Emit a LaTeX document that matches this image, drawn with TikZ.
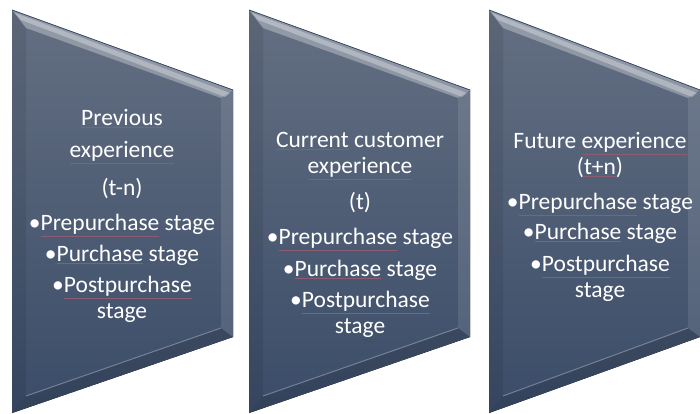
\documentclass[tikz,border=0pt]{standalone}
\usepackage{fontspec}
\setmainfont{Carlito}
\definecolor{slatetop}{RGB}{100,111,130}
\definecolor{slatebot}{RGB}{58,76,104}
\definecolor{spellred}{RGB}{140,92,115}
\newcommand{\spl}[1]{{\color{spellred}\underline{\color{white}#1}}}
\tikzset{
  panel/.style={top color=slatetop, bottom color=slatebot, draw=none},
  facet/.style={fill=white, fill opacity=#1},
  shadow/.style={fill=black, fill opacity=#1},
  caption/.style={text=white, font=\fontsize{23.5}{26}\selectfont, align=center, inner sep=0pt},
}

\begin{document}
\begin{tikzpicture}[x=1pt,y=-1pt]
  \useasboundingbox (0,0) rectangle (700,414);
  % the three panels with their bevels
  \foreach \l/\r in {12/233, 249/470, 489/700}{
    \fill[panel] (\l,10) -- (\r,90) -- (\r,337) -- (\l,413) -- cycle;
    \fill[facet=0.3] (\l,10) -- (\r,90) -- (\r-12,98) -- (\l+14,28) -- cycle;
    \fill[facet=0.3] (\l+3,13) -- (\r-3,93) -- (\r-8,97) -- (\l+9,20) -- cycle;
    \fill[facet=0.1] (\r,90) -- (\r,337) -- (\r-12,328) -- (\r-12,98) -- cycle;
    \fill[shadow=0.08] (\l,10) -- (\l+14,28) -- (\l+14,396) -- (\l,413) -- cycle;
    \fill[shadow=0.12] (\l,413) -- (\l+14,396) -- (\r-12,328) -- (\r,337) -- cycle;
    \draw[white, opacity=0.3, line width=1pt] (\l+14,396) -- (\r-12,328);
    \draw[slatebot, line width=0.8pt] (\l,10) -- (\r,90);
  }
  % texts
  \node[caption] (prev) at (122,216) {\spl{Previous}\\[6pt] \spl{experience}\\[12pt] (t-n)\\[9pt]
    •\spl{Prepurchase} stage\\[5pt] •\spl{Purchase} stage\\[5pt] •\spl{Postpurchase}\\ stage};
  \node[caption] (curr) at (360,235) {\spl{Current} customer\\ \spl{experience}\\[10pt] (t)\\[9pt]
    •\spl{Prepurchase} stage\\[6pt] •\spl{Purchase} stage\\[5pt] •\spl{Postpurchase}\\ stage};
  \node[caption] (fut) at (600,217) {Future \spl{experience}\\ (\spl{t+n})\\[9pt]
    •\spl{Prepurchase} stage\\[4pt] •\spl{Purchase} stage\\[6pt] •\spl{Postpurchase}\\ stage};
\end{tikzpicture}
\end{document}
